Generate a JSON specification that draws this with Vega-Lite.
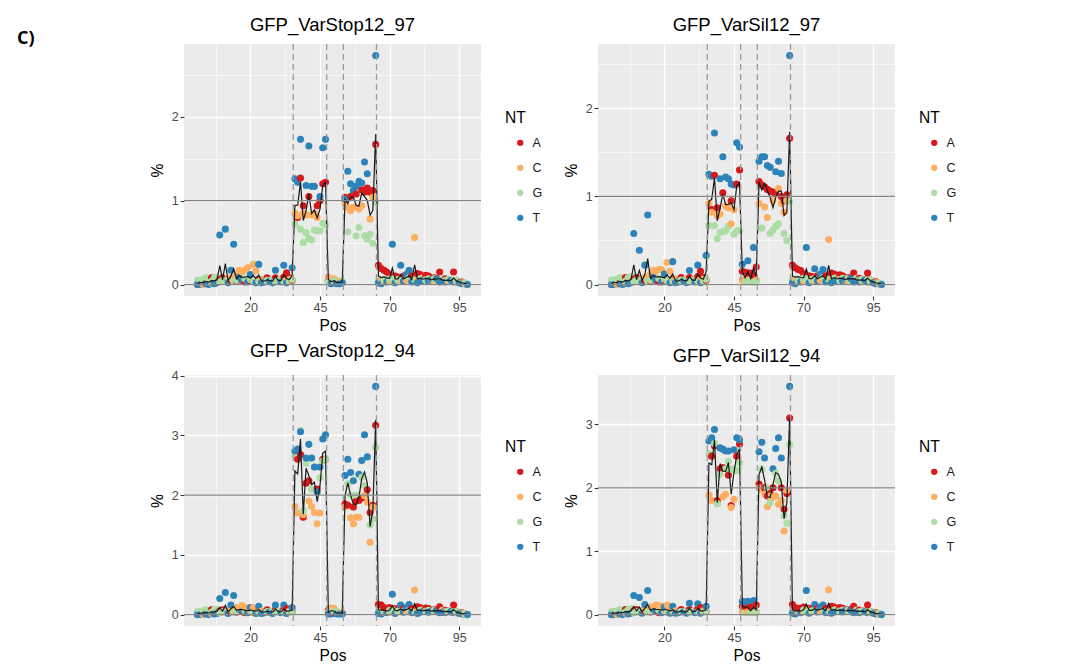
{
"$schema": "https://vega.github.io/schema/vega-lite/v6.json",
"background": "white",
"padding": {"left": 17, "top": 15, "right": 0, "bottom": 0},
"title": {"text": "C)", "orient": "left", "anchor": "end", "angle": 0, "align": "right", "baseline": "top", "offset": 98, "dy": 14, "font": "Open Sans", "fontSize": 18, "fontWeight": "bold", "color": "#000000", "frame": "bounds"},
"datasets": {"pts": [
{"p":"z","x":1,"n":"A","v":0},{"p":"z","x":1,"n":"G","v":0.05},{"p":"z","x":1,"n":"T","v":0},
{"p":"z","x":2,"n":"C","v":0.02},{"p":"z","x":2,"n":"G","v":0.05},{"p":"z","x":2,"n":"T","v":0},
{"p":"z","x":3,"n":"A","v":0.01},{"p":"z","x":3,"n":"C","v":0},{"p":"z","x":3,"n":"G","v":0.06},
{"p":"z","x":4,"n":"A","v":0.02},{"p":"z","x":4,"n":"G","v":0.08},{"p":"z","x":4,"n":"T","v":0.01},
{"p":"z","x":5,"n":"C","v":0.03},{"p":"z","x":5,"n":"G","v":0.05},{"p":"z","x":5,"n":"T","v":0},
{"p":"z","x":6,"n":"A","v":0.08},{"p":"z","x":6,"n":"C","v":0.02},{"p":"z","x":6,"n":"G","v":0.04},
{"p":"z","x":7,"n":"A","v":0.04},{"p":"z","x":7,"n":"G","v":0.08},{"p":"z","x":7,"n":"T","v":0.01},
{"p":"z","x":8,"n":"C","v":0.06},{"p":"z","x":8,"n":"G","v":0.09},{"p":"z","x":8,"n":"T","v":0.02},
{"p":"z","x":9,"n":"A","v":0.06},{"p":"z","x":9,"n":"G","v":0.03},
{"p":"z","x":10,"n":"A","v":0.08},{"p":"z","x":10,"n":"C","v":0.04},{"p":"z","x":10,"n":"G","v":0.05},
{"p":"z","x":11,"n":"C","v":0.05},{"p":"z","x":11,"n":"G","v":0.04},
{"p":"z","x":12,"n":"A","v":0.06},{"p":"z","x":12,"n":"G","v":0.06},{"p":"z","x":12,"n":"T","v":0.02},
{"p":"z","x":13,"n":"A","v":0.05},{"p":"z","x":13,"n":"C","v":0.08},
{"p":"z","x":14,"n":"C","v":0.05},{"p":"z","x":14,"n":"G","v":0.04},
{"p":"z","x":15,"n":"A","v":0.04},{"p":"z","x":15,"n":"C","v":0.12},{"p":"z","x":15,"n":"G","v":0.05},
{"p":"z","x":16,"n":"G","v":0.06},{"p":"z","x":16,"n":"T","v":0.09},
{"p":"z","x":17,"n":"A","v":0.05},{"p":"z","x":17,"n":"C","v":0.15},{"p":"z","x":17,"n":"T","v":0.05},
{"p":"z","x":18,"n":"A","v":0.03},{"p":"z","x":18,"n":"G","v":0.07},
{"p":"z","x":19,"n":"G","v":0.05},{"p":"z","x":19,"n":"T","v":0.03},
{"p":"z","x":20,"n":"A","v":0.05},{"p":"z","x":20,"n":"G","v":0.06},{"p":"z","x":20,"n":"T","v":0.12},
{"p":"z","x":21,"n":"A","v":0.04},{"p":"z","x":21,"n":"G","v":0.04},
{"p":"z","x":22,"n":"G","v":0.05},{"p":"z","x":22,"n":"T","v":0.02},
{"p":"z","x":23,"n":"A","v":0.06},{"p":"z","x":23,"n":"G","v":0.04},
{"p":"z","x":24,"n":"A","v":0.05},{"p":"z","x":24,"n":"C","v":0.06},{"p":"z","x":24,"n":"T","v":0.02},
{"p":"z","x":25,"n":"C","v":0.05},{"p":"z","x":25,"n":"G","v":0.04},{"p":"z","x":25,"n":"T","v":0.03},
{"p":"z","x":26,"n":"A","v":0.08},{"p":"z","x":26,"n":"C","v":0.04},{"p":"z","x":26,"n":"G","v":0.05},
{"p":"z","x":27,"n":"A","v":0.05},{"p":"z","x":27,"n":"G","v":0.05},{"p":"z","x":27,"n":"T","v":0.04},
{"p":"z","x":28,"n":"C","v":0.04},{"p":"z","x":28,"n":"G","v":0.06},{"p":"z","x":28,"n":"T","v":0.02},
{"p":"z","x":29,"n":"A","v":0.08},{"p":"z","x":29,"n":"G","v":0.04},
{"p":"z","x":30,"n":"A","v":0.05},{"p":"z","x":30,"n":"C","v":0.05},{"p":"z","x":30,"n":"G","v":0.05},
{"p":"z","x":31,"n":"C","v":0.06},{"p":"z","x":31,"n":"G","v":0.05},{"p":"z","x":31,"n":"T","v":0.03},
{"p":"z","x":32,"n":"A","v":0.09},{"p":"z","x":32,"n":"G","v":0.04},
{"p":"z","x":33,"n":"C","v":0.05},{"p":"z","x":33,"n":"T","v":0.02},
{"p":"z","x":34,"n":"A","v":0.08},{"p":"z","x":34,"n":"C","v":0.06},{"p":"z","x":34,"n":"G","v":0.04},
{"p":"z","x":35,"n":"A","v":0.05},{"p":"z","x":35,"n":"G","v":0.06},
{"p":"z","x":66,"n":"G","v":0.05},{"p":"z","x":66,"n":"T","v":0.02},
{"p":"z","x":67,"n":"C","v":0.05},{"p":"z","x":67,"n":"T","v":0.01},
{"p":"z","x":68,"n":"C","v":0.04},{"p":"z","x":68,"n":"G","v":0.06},
{"p":"z","x":69,"n":"G","v":0.05},{"p":"z","x":69,"n":"T","v":0.03},
{"p":"z","x":70,"n":"A","v":0.12},{"p":"z","x":70,"n":"C","v":0.04},{"p":"z","x":70,"n":"G","v":0.07},
{"p":"z","x":71,"n":"C","v":0.05},{"p":"z","x":71,"n":"G","v":0.06},
{"p":"z","x":72,"n":"A","v":0.1},{"p":"z","x":72,"n":"G","v":0.08},{"p":"z","x":72,"n":"T","v":0.02},
{"p":"z","x":73,"n":"A","v":0.09},{"p":"z","x":73,"n":"C","v":0.06},{"p":"z","x":73,"n":"G","v":0.05},
{"p":"z","x":74,"n":"C","v":0.05},{"p":"z","x":74,"n":"G","v":0.07},
{"p":"z","x":75,"n":"A","v":0.1},{"p":"z","x":75,"n":"G","v":0.06},{"p":"z","x":75,"n":"T","v":0.04},
{"p":"z","x":76,"n":"A","v":0.08},{"p":"z","x":76,"n":"C","v":0.05},{"p":"z","x":76,"n":"T","v":0.12},
{"p":"z","x":77,"n":"C","v":0.06},{"p":"z","x":77,"n":"G","v":0.08},
{"p":"z","x":78,"n":"A","v":0.1},{"p":"z","x":78,"n":"G","v":0.05},{"p":"z","x":78,"n":"T","v":0.03},
{"p":"z","x":79,"n":"A","v":0.08},{"p":"z","x":79,"n":"G","v":0.06},
{"p":"z","x":80,"n":"A","v":0.13},{"p":"z","x":80,"n":"C","v":0.05},{"p":"z","x":80,"n":"T","v":0.02},
{"p":"z","x":81,"n":"A","v":0.12},{"p":"z","x":81,"n":"G","v":0.07},{"p":"z","x":81,"n":"T","v":0.04},
{"p":"z","x":82,"n":"C","v":0.06},{"p":"z","x":82,"n":"G","v":0.08},{"p":"z","x":82,"n":"T","v":0.05},
{"p":"z","x":83,"n":"A","v":0.11},{"p":"z","x":83,"n":"C","v":0.06},{"p":"z","x":83,"n":"G","v":0.05},
{"p":"z","x":84,"n":"A","v":0.1},{"p":"z","x":84,"n":"G","v":0.07},{"p":"z","x":84,"n":"T","v":0.04},
{"p":"z","x":85,"n":"C","v":0.05},{"p":"z","x":85,"n":"G","v":0.06},{"p":"z","x":85,"n":"T","v":0.06},
{"p":"z","x":86,"n":"A","v":0.08},{"p":"z","x":86,"n":"C","v":0.05},{"p":"z","x":86,"n":"G","v":0.07},
{"p":"z","x":87,"n":"A","v":0.07},{"p":"z","x":87,"n":"G","v":0.05},{"p":"z","x":87,"n":"T","v":0.07},
{"p":"z","x":88,"n":"C","v":0.04},{"p":"z","x":88,"n":"T","v":0.03},
{"p":"z","x":89,"n":"C","v":0.05},{"p":"z","x":89,"n":"G","v":0.07},{"p":"z","x":89,"n":"T","v":0.04},
{"p":"z","x":90,"n":"A","v":0.07},{"p":"z","x":90,"n":"G","v":0.05},{"p":"z","x":90,"n":"T","v":0.03},
{"p":"z","x":91,"n":"A","v":0.06},{"p":"z","x":91,"n":"C","v":0.04},{"p":"z","x":91,"n":"G","v":0.06},
{"p":"z","x":92,"n":"C","v":0.05},{"p":"z","x":92,"n":"G","v":0.04},{"p":"z","x":92,"n":"T","v":0.05},
{"p":"z","x":93,"n":"G","v":0.05},{"p":"z","x":93,"n":"T","v":0.03},
{"p":"z","x":94,"n":"A","v":0.05},{"p":"z","x":94,"n":"C","v":0.03},{"p":"z","x":94,"n":"G","v":0.05},
{"p":"z","x":95,"n":"C","v":0.03},{"p":"z","x":95,"n":"G","v":0.04},{"p":"z","x":95,"n":"T","v":0.02},
{"p":"z","x":96,"n":"A","v":0.03},{"p":"z","x":96,"n":"G","v":0.02},{"p":"z","x":96,"n":"T","v":0.01},
{"p":"z","x":97,"n":"A","v":0.01},{"p":"z","x":97,"n":"C","v":0.02},{"p":"z","x":97,"n":"G","v":0.01},
{"p":"z","x":98,"n":"C","v":0},{"p":"z","x":98,"n":"G","v":0.01},{"p":"z","x":98,"n":"T","v":0},

{"p":"a","x":9,"n":"T","v":0.59},{"p":"a","x":11,"n":"T","v":0.66},{"p":"a","x":13,"n":"T","v":0.17},{"p":"a","x":14,"n":"T","v":0.48},
{"p":"a","x":16,"n":"C","v":0.17},{"p":"a","x":18,"n":"C","v":0.17},{"p":"a","x":19,"n":"C","v":0.2},{"p":"a","x":21,"n":"C","v":0.24},
{"p":"a","x":22,"n":"C","v":0.16},{"p":"a","x":23,"n":"T","v":0.24},{"p":"a","x":29,"n":"T","v":0.17},{"p":"a","x":32,"n":"T","v":0.23},
{"p":"a","x":33,"n":"A","v":0.14},{"p":"a","x":35,"n":"T","v":0.2},{"p":"a","x":66,"n":"A","v":0.23},{"p":"a","x":67,"n":"A","v":0.19},
{"p":"a","x":68,"n":"A","v":0.17},{"p":"a","x":69,"n":"A","v":0.15},{"p":"a","x":71,"n":"T","v":0.48},{"p":"a","x":74,"n":"T","v":0.23},
{"p":"a","x":77,"n":"T","v":0.17},{"p":"a","x":79,"n":"C","v":0.56},{"p":"a","x":88,"n":"A","v":0.15},{"p":"a","x":93,"n":"A","v":0.15},
{"p":"a","x":36,"n":"C","v":0.85},{"p":"a","x":36,"n":"G","v":0.72},{"p":"a","x":36,"n":"T","v":1.26},
{"p":"a","x":37,"n":"A","v":0.8},{"p":"a","x":37,"n":"C","v":0.82},{"p":"a","x":37,"n":"T","v":1.22},
{"p":"a","x":38,"n":"A","v":1.27},{"p":"a","x":38,"n":"G","v":0.66},{"p":"a","x":38,"n":"T","v":1.73},
{"p":"a","x":39,"n":"A","v":0.94},{"p":"a","x":39,"n":"C","v":0.85},{"p":"a","x":39,"n":"G","v":0.5},
{"p":"a","x":40,"n":"C","v":0.83},{"p":"a","x":40,"n":"G","v":0.62},{"p":"a","x":40,"n":"T","v":1.18},
{"p":"a","x":41,"n":"A","v":1.05},{"p":"a","x":41,"n":"G","v":0.55},{"p":"a","x":41,"n":"T","v":1.65},
{"p":"a","x":42,"n":"C","v":0.83},{"p":"a","x":42,"n":"G","v":0.53},{"p":"a","x":42,"n":"T","v":1.17},
{"p":"a","x":43,"n":"C","v":0.85},{"p":"a","x":43,"n":"G","v":0.65},{"p":"a","x":43,"n":"T","v":1.17},
{"p":"a","x":44,"n":"A","v":0.94},{"p":"a","x":44,"n":"C","v":0.8},{"p":"a","x":44,"n":"G","v":0.64},
{"p":"a","x":45,"n":"A","v":1.0},{"p":"a","x":45,"n":"G","v":0.64},{"p":"a","x":45,"n":"T","v":1.05},
{"p":"a","x":46,"n":"A","v":1.2},{"p":"a","x":46,"n":"G","v":0.73},{"p":"a","x":46,"n":"T","v":1.63},
{"p":"a","x":47,"n":"A","v":1.22},{"p":"a","x":47,"n":"G","v":0.71},{"p":"a","x":47,"n":"T","v":1.73},
{"p":"a","x":48,"n":"A","v":0.05},{"p":"a","x":48,"n":"C","v":0.09},{"p":"a","x":48,"n":"G","v":0.04},
{"p":"a","x":49,"n":"C","v":0.06},{"p":"a","x":49,"n":"G","v":0.03},{"p":"a","x":49,"n":"T","v":0.01},
{"p":"a","x":50,"n":"A","v":0.03},{"p":"a","x":50,"n":"C","v":0.07},{"p":"a","x":50,"n":"G","v":0.04},
{"p":"a","x":51,"n":"A","v":0.02},{"p":"a","x":51,"n":"G","v":0.05},{"p":"a","x":51,"n":"T","v":0.01},
{"p":"a","x":52,"n":"A","v":0.03},{"p":"a","x":52,"n":"C","v":0.04},{"p":"a","x":52,"n":"T","v":0.01},
{"p":"a","x":53,"n":"C","v":0.03},{"p":"a","x":53,"n":"G","v":0.04},{"p":"a","x":53,"n":"T","v":0.02},
{"p":"a","x":54,"n":"A","v":1.04},{"p":"a","x":54,"n":"C","v":0.98},{"p":"a","x":54,"n":"T","v":1.02},
{"p":"a","x":55,"n":"C","v":0.92},{"p":"a","x":55,"n":"G","v":0.63},{"p":"a","x":55,"n":"T","v":1.35},
{"p":"a","x":56,"n":"A","v":1.05},{"p":"a","x":56,"n":"C","v":0.88},{"p":"a","x":56,"n":"T","v":1.2},
{"p":"a","x":57,"n":"A","v":1.08},{"p":"a","x":57,"n":"C","v":0.92},{"p":"a","x":57,"n":"T","v":1.12},
{"p":"a","x":58,"n":"A","v":1.08},{"p":"a","x":58,"n":"G","v":0.58},{"p":"a","x":58,"n":"T","v":1.17},
{"p":"a","x":59,"n":"C","v":0.9},{"p":"a","x":59,"n":"G","v":0.68},{"p":"a","x":59,"n":"T","v":1.23},
{"p":"a","x":60,"n":"A","v":1.13},{"p":"a","x":60,"n":"C","v":0.94},{"p":"a","x":60,"n":"T","v":1.21},
{"p":"a","x":61,"n":"A","v":1.1},{"p":"a","x":61,"n":"G","v":0.58},{"p":"a","x":61,"n":"T","v":1.46},
{"p":"a","x":62,"n":"A","v":1.15},{"p":"a","x":62,"n":"G","v":0.54},{"p":"a","x":62,"n":"T","v":1.32},
{"p":"a","x":63,"n":"A","v":1.1},{"p":"a","x":63,"n":"C","v":0.78},{"p":"a","x":63,"n":"G","v":0.6},
{"p":"a","x":64,"n":"A","v":1.12},{"p":"a","x":64,"n":"C","v":1.04},{"p":"a","x":64,"n":"G","v":0.49},
{"p":"a","x":65,"n":"A","v":1.67},{"p":"a","x":65,"n":"G","v":0.98},{"p":"a","x":65,"n":"T","v":2.73},

{"p":"b","x":9,"n":"T","v":0.58},{"p":"b","x":11,"n":"T","v":0.39},{"p":"b","x":13,"n":"T","v":0.22},{"p":"b","x":14,"n":"T","v":0.79},
{"p":"b","x":16,"n":"C","v":0.16},{"p":"b","x":18,"n":"C","v":0.17},{"p":"b","x":19,"n":"C","v":0.17},{"p":"b","x":21,"n":"C","v":0.25},
{"p":"b","x":22,"n":"C","v":0.15},{"p":"b","x":23,"n":"T","v":0.26},{"p":"b","x":29,"n":"T","v":0.16},{"p":"b","x":32,"n":"T","v":0.22},
{"p":"b","x":33,"n":"A","v":0.15},{"p":"b","x":35,"n":"T","v":0.33},{"p":"b","x":66,"n":"A","v":0.22},{"p":"b","x":67,"n":"A","v":0.19},
{"p":"b","x":68,"n":"A","v":0.17},{"p":"b","x":69,"n":"A","v":0.16},{"p":"b","x":71,"n":"T","v":0.42},{"p":"b","x":74,"n":"T","v":0.18},
{"p":"b","x":77,"n":"T","v":0.17},{"p":"b","x":79,"n":"C","v":0.51},{"p":"b","x":88,"n":"A","v":0.13},{"p":"b","x":93,"n":"A","v":0.13},
{"p":"b","x":36,"n":"C","v":0.92},{"p":"b","x":36,"n":"G","v":0.67},{"p":"b","x":36,"n":"T","v":1.25},
{"p":"b","x":37,"n":"A","v":0.85},{"p":"b","x":37,"n":"C","v":0.82},{"p":"b","x":37,"n":"T","v":1.23},
{"p":"b","x":38,"n":"A","v":1.24},{"p":"b","x":38,"n":"G","v":0.67},{"p":"b","x":38,"n":"T","v":1.72},
{"p":"b","x":39,"n":"A","v":0.87},{"p":"b","x":39,"n":"C","v":0.78},{"p":"b","x":39,"n":"G","v":0.52},
{"p":"b","x":40,"n":"C","v":0.8},{"p":"b","x":40,"n":"G","v":0.59},{"p":"b","x":40,"n":"T","v":1.2},
{"p":"b","x":41,"n":"A","v":1.04},{"p":"b","x":41,"n":"G","v":0.6},{"p":"b","x":41,"n":"T","v":1.45},
{"p":"b","x":42,"n":"C","v":0.89},{"p":"b","x":42,"n":"G","v":0.61},{"p":"b","x":42,"n":"T","v":1.22},
{"p":"b","x":43,"n":"C","v":0.87},{"p":"b","x":43,"n":"G","v":0.66},{"p":"b","x":43,"n":"T","v":1.2},
{"p":"b","x":44,"n":"A","v":0.95},{"p":"b","x":44,"n":"C","v":0.69},{"p":"b","x":44,"n":"T","v":1.14},
{"p":"b","x":45,"n":"C","v":0.85},{"p":"b","x":45,"n":"G","v":0.57},{"p":"b","x":45,"n":"T","v":1.13},
{"p":"b","x":46,"n":"A","v":1.14},{"p":"b","x":46,"n":"G","v":0.61},{"p":"b","x":46,"n":"T","v":1.61},
{"p":"b","x":47,"n":"A","v":1.3},{"p":"b","x":47,"n":"G","v":0.61},{"p":"b","x":47,"n":"T","v":1.56},
{"p":"b","x":48,"n":"A","v":0.15},{"p":"b","x":48,"n":"C","v":0.05},{"p":"b","x":48,"n":"T","v":0.23},
{"p":"b","x":49,"n":"A","v":0.14},{"p":"b","x":49,"n":"C","v":0.06},{"p":"b","x":49,"n":"G","v":0.03},
{"p":"b","x":50,"n":"A","v":0.13},{"p":"b","x":50,"n":"G","v":0.04},{"p":"b","x":50,"n":"T","v":0.27},
{"p":"b","x":51,"n":"A","v":0.13},{"p":"b","x":51,"n":"C","v":0.04},{"p":"b","x":51,"n":"G","v":0.03},
{"p":"b","x":52,"n":"A","v":0.1},{"p":"b","x":52,"n":"G","v":0.03},{"p":"b","x":52,"n":"T","v":0.42},
{"p":"b","x":53,"n":"A","v":0.2},{"p":"b","x":53,"n":"C","v":0.05},{"p":"b","x":53,"n":"G","v":0.03},
{"p":"b","x":54,"n":"A","v":1.17},{"p":"b","x":54,"n":"C","v":0.92},{"p":"b","x":54,"n":"T","v":1.4},
{"p":"b","x":55,"n":"A","v":1.13},{"p":"b","x":55,"n":"G","v":0.64},{"p":"b","x":55,"n":"T","v":1.45},
{"p":"b","x":56,"n":"A","v":1.11},{"p":"b","x":56,"n":"C","v":0.88},{"p":"b","x":56,"n":"T","v":1.45},
{"p":"b","x":57,"n":"A","v":1.08},{"p":"b","x":57,"n":"C","v":0.76},{"p":"b","x":57,"n":"T","v":1.35},
{"p":"b","x":58,"n":"A","v":1.06},{"p":"b","x":58,"n":"G","v":0.58},{"p":"b","x":58,"n":"T","v":1.33},
{"p":"b","x":59,"n":"A","v":1.05},{"p":"b","x":59,"n":"C","v":0.95},{"p":"b","x":59,"n":"G","v":0.62},
{"p":"b","x":60,"n":"A","v":1.03},{"p":"b","x":60,"n":"G","v":0.66},{"p":"b","x":60,"n":"T","v":1.28},
{"p":"b","x":61,"n":"C","v":1.09},{"p":"b","x":61,"n":"G","v":0.69},{"p":"b","x":61,"n":"T","v":1.4},
{"p":"b","x":62,"n":"A","v":1.0},{"p":"b","x":62,"n":"C","v":0.92},{"p":"b","x":62,"n":"T","v":1.26},
{"p":"b","x":63,"n":"A","v":0.95},{"p":"b","x":63,"n":"C","v":0.82},{"p":"b","x":63,"n":"G","v":0.58},
{"p":"b","x":64,"n":"A","v":1.02},{"p":"b","x":64,"n":"C","v":0.95},{"p":"b","x":64,"n":"G","v":0.5},
{"p":"b","x":65,"n":"A","v":1.66},{"p":"b","x":65,"n":"G","v":0.94},{"p":"b","x":65,"n":"T","v":2.6},

{"p":"c","x":9,"n":"T","v":0.27},{"p":"c","x":11,"n":"T","v":0.37},{"p":"c","x":13,"n":"T","v":0.16},{"p":"c","x":14,"n":"T","v":0.32},
{"p":"c","x":16,"n":"C","v":0.1},{"p":"c","x":18,"n":"C","v":0.12},{"p":"c","x":19,"n":"C","v":0.11},{"p":"c","x":21,"n":"C","v":0.12},
{"p":"c","x":22,"n":"C","v":0.1},{"p":"c","x":23,"n":"T","v":0.14},{"p":"c","x":29,"n":"T","v":0.16},{"p":"c","x":32,"n":"T","v":0.16},
{"p":"c","x":33,"n":"A","v":0.1},{"p":"c","x":35,"n":"T","v":0.12},{"p":"c","x":66,"n":"A","v":0.17},{"p":"c","x":67,"n":"A","v":0.16},
{"p":"c","x":68,"n":"A","v":0.12},{"p":"c","x":69,"n":"A","v":0.1},{"p":"c","x":71,"n":"T","v":0.34},{"p":"c","x":74,"n":"T","v":0.16},
{"p":"c","x":77,"n":"T","v":0.17},{"p":"c","x":79,"n":"C","v":0.41},{"p":"c","x":88,"n":"A","v":0.13},{"p":"c","x":93,"n":"A","v":0.16},
{"p":"c","x":36,"n":"C","v":1.81},{"p":"c","x":36,"n":"G","v":2.66},{"p":"c","x":36,"n":"T","v":2.74},
{"p":"c","x":37,"n":"A","v":2.6},{"p":"c","x":37,"n":"C","v":1.7},{"p":"c","x":37,"n":"T","v":2.77},
{"p":"c","x":38,"n":"A","v":2.68},{"p":"c","x":38,"n":"G","v":3.08},{"p":"c","x":38,"n":"T","v":3.06},
{"p":"c","x":39,"n":"A","v":1.63},{"p":"c","x":39,"n":"C","v":1.67},{"p":"c","x":39,"n":"G","v":1.74},
{"p":"c","x":40,"n":"A","v":2.2},{"p":"c","x":40,"n":"G","v":2.53},{"p":"c","x":40,"n":"T","v":2.62},
{"p":"c","x":41,"n":"A","v":2.24},{"p":"c","x":41,"n":"C","v":1.9},{"p":"c","x":41,"n":"T","v":2.85},
{"p":"c","x":42,"n":"C","v":1.81},{"p":"c","x":42,"n":"G","v":2.1},{"p":"c","x":42,"n":"T","v":2.62},
{"p":"c","x":43,"n":"C","v":1.71},{"p":"c","x":43,"n":"G","v":2.47},{"p":"c","x":43,"n":"T","v":2.47},
{"p":"c","x":44,"n":"A","v":2.1},{"p":"c","x":44,"n":"C","v":1.52},{"p":"c","x":44,"n":"T","v":2.05},
{"p":"c","x":45,"n":"C","v":1.7},{"p":"c","x":45,"n":"G","v":2.29},{"p":"c","x":45,"n":"T","v":2.47},
{"p":"c","x":46,"n":"A","v":2.6},{"p":"c","x":46,"n":"G","v":2.57},{"p":"c","x":46,"n":"T","v":2.94},
{"p":"c","x":47,"n":"A","v":2.6},{"p":"c","x":47,"n":"G","v":2.6},{"p":"c","x":47,"n":"T","v":3.01},
{"p":"c","x":48,"n":"A","v":0.07},{"p":"c","x":48,"n":"C","v":0.05},{"p":"c","x":48,"n":"T","v":0.01},
{"p":"c","x":49,"n":"C","v":0.11},{"p":"c","x":49,"n":"G","v":0.07},{"p":"c","x":49,"n":"T","v":0.01},
{"p":"c","x":50,"n":"A","v":0.03},{"p":"c","x":50,"n":"C","v":0.1},{"p":"c","x":50,"n":"G","v":0.05},
{"p":"c","x":51,"n":"A","v":0.02},{"p":"c","x":51,"n":"G","v":0.05},{"p":"c","x":51,"n":"T","v":0.01},
{"p":"c","x":52,"n":"C","v":0.04},{"p":"c","x":52,"n":"G","v":0.03},{"p":"c","x":52,"n":"T","v":0.01},
{"p":"c","x":53,"n":"A","v":0.02},{"p":"c","x":53,"n":"C","v":0.03},{"p":"c","x":53,"n":"T","v":0.01},
{"p":"c","x":54,"n":"A","v":1.85},{"p":"c","x":54,"n":"C","v":1.8},{"p":"c","x":54,"n":"T","v":2.33},
{"p":"c","x":55,"n":"A","v":1.83},{"p":"c","x":55,"n":"G","v":2.19},{"p":"c","x":55,"n":"T","v":2.6},
{"p":"c","x":56,"n":"C","v":1.62},{"p":"c","x":56,"n":"G","v":2.0},{"p":"c","x":56,"n":"T","v":2.38},
{"p":"c","x":57,"n":"A","v":1.8},{"p":"c","x":57,"n":"C","v":1.52},{"p":"c","x":57,"n":"T","v":2.24},
{"p":"c","x":58,"n":"A","v":1.9},{"p":"c","x":58,"n":"C","v":1.63},{"p":"c","x":58,"n":"G","v":2.0},
{"p":"c","x":59,"n":"A","v":1.91},{"p":"c","x":59,"n":"C","v":1.63},{"p":"c","x":59,"n":"T","v":2.35},
{"p":"c","x":60,"n":"A","v":1.95},{"p":"c","x":60,"n":"G","v":2.3},{"p":"c","x":60,"n":"T","v":2.58},
{"p":"c","x":61,"n":"C","v":1.99},{"p":"c","x":61,"n":"G","v":2.16},{"p":"c","x":61,"n":"T","v":3.01},
{"p":"c","x":62,"n":"A","v":2.09},{"p":"c","x":62,"n":"C","v":1.88},{"p":"c","x":62,"n":"T","v":2.64},
{"p":"c","x":63,"n":"A","v":1.71},{"p":"c","x":63,"n":"C","v":1.21},{"p":"c","x":63,"n":"G","v":1.5},
{"p":"c","x":64,"n":"A","v":1.83},{"p":"c","x":64,"n":"C","v":1.8},{"p":"c","x":64,"n":"G","v":1.6},
{"p":"c","x":65,"n":"A","v":3.17},{"p":"c","x":65,"n":"G","v":2.8},{"p":"c","x":65,"n":"T","v":3.82},

{"p":"d","x":9,"n":"T","v":0.3},{"p":"d","x":11,"n":"T","v":0.27},{"p":"d","x":13,"n":"T","v":0.16},{"p":"d","x":14,"n":"T","v":0.38},
{"p":"d","x":16,"n":"C","v":0.12},{"p":"d","x":18,"n":"C","v":0.14},{"p":"d","x":19,"n":"C","v":0.13},{"p":"d","x":21,"n":"C","v":0.15},
{"p":"d","x":22,"n":"C","v":0.1},{"p":"d","x":23,"n":"T","v":0.13},{"p":"d","x":29,"n":"T","v":0.18},{"p":"d","x":32,"n":"T","v":0.17},
{"p":"d","x":33,"n":"A","v":0.11},{"p":"d","x":35,"n":"T","v":0.13},{"p":"d","x":66,"n":"A","v":0.16},{"p":"d","x":67,"n":"A","v":0.11},
{"p":"d","x":68,"n":"A","v":0.1},{"p":"d","x":69,"n":"A","v":0.09},{"p":"d","x":71,"n":"T","v":0.38},{"p":"d","x":74,"n":"T","v":0.16},
{"p":"d","x":77,"n":"T","v":0.15},{"p":"d","x":79,"n":"C","v":0.39},{"p":"d","x":88,"n":"A","v":0.13},{"p":"d","x":93,"n":"A","v":0.15},
{"p":"d","x":36,"n":"C","v":1.89},{"p":"d","x":36,"n":"G","v":2.54},{"p":"d","x":36,"n":"T","v":2.74},
{"p":"d","x":37,"n":"A","v":2.5},{"p":"d","x":37,"n":"C","v":1.8},{"p":"d","x":37,"n":"T","v":2.79},
{"p":"d","x":38,"n":"A","v":2.66},{"p":"d","x":38,"n":"G","v":2.7},{"p":"d","x":38,"n":"T","v":2.92},
{"p":"d","x":39,"n":"A","v":1.8},{"p":"d","x":39,"n":"C","v":1.75},{"p":"d","x":39,"n":"G","v":1.75},
{"p":"d","x":40,"n":"A","v":2.3},{"p":"d","x":40,"n":"G","v":2.21},{"p":"d","x":40,"n":"T","v":2.63},
{"p":"d","x":41,"n":"A","v":2.32},{"p":"d","x":41,"n":"C","v":1.86},{"p":"d","x":41,"n":"T","v":2.61},
{"p":"d","x":42,"n":"C","v":1.9},{"p":"d","x":42,"n":"G","v":2.3},{"p":"d","x":42,"n":"T","v":2.58},
{"p":"d","x":43,"n":"A","v":2.2},{"p":"d","x":43,"n":"G","v":2.42},{"p":"d","x":43,"n":"T","v":2.58},
{"p":"d","x":44,"n":"A","v":1.72},{"p":"d","x":44,"n":"C","v":1.69},{"p":"d","x":44,"n":"G","v":2.29},
{"p":"d","x":45,"n":"C","v":1.82},{"p":"d","x":45,"n":"G","v":2.3},{"p":"d","x":45,"n":"T","v":2.6},
{"p":"d","x":46,"n":"A","v":2.5},{"p":"d","x":46,"n":"G","v":2.27},{"p":"d","x":46,"n":"T","v":2.79},
{"p":"d","x":47,"n":"A","v":2.69},{"p":"d","x":47,"n":"G","v":2.4},{"p":"d","x":47,"n":"T","v":2.76},
{"p":"d","x":48,"n":"A","v":0.13},{"p":"d","x":48,"n":"C","v":0.04},{"p":"d","x":48,"n":"T","v":0.21},
{"p":"d","x":49,"n":"A","v":0.12},{"p":"d","x":49,"n":"G","v":0.03},{"p":"d","x":49,"n":"T","v":0.2},
{"p":"d","x":50,"n":"A","v":0.1},{"p":"d","x":50,"n":"C","v":0.04},{"p":"d","x":50,"n":"T","v":0.21},
{"p":"d","x":51,"n":"A","v":0.12},{"p":"d","x":51,"n":"C","v":0.03},{"p":"d","x":51,"n":"G","v":0.03},
{"p":"d","x":52,"n":"A","v":0.1},{"p":"d","x":52,"n":"G","v":0.03},{"p":"d","x":52,"n":"T","v":0.22},
{"p":"d","x":53,"n":"A","v":0.15},{"p":"d","x":53,"n":"C","v":0.04},{"p":"d","x":53,"n":"G","v":0.03},
{"p":"d","x":54,"n":"A","v":2.06},{"p":"d","x":54,"n":"C","v":2.0},{"p":"d","x":54,"n":"T","v":2.57},
{"p":"d","x":55,"n":"C","v":1.98},{"p":"d","x":55,"n":"G","v":2.29},{"p":"d","x":55,"n":"T","v":2.72},
{"p":"d","x":56,"n":"A","v":2.0},{"p":"d","x":56,"n":"C","v":1.9},{"p":"d","x":56,"n":"T","v":2.47},
{"p":"d","x":57,"n":"A","v":1.87},{"p":"d","x":57,"n":"C","v":1.7},{"p":"d","x":57,"n":"G","v":2.0},
{"p":"d","x":58,"n":"A","v":1.91},{"p":"d","x":58,"n":"C","v":1.87},{"p":"d","x":58,"n":"G","v":1.77},
{"p":"d","x":59,"n":"A","v":2.0},{"p":"d","x":59,"n":"C","v":1.85},{"p":"d","x":59,"n":"T","v":2.3},
{"p":"d","x":60,"n":"C","v":1.87},{"p":"d","x":60,"n":"G","v":2.23},{"p":"d","x":60,"n":"T","v":2.62},
{"p":"d","x":61,"n":"C","v":1.74},{"p":"d","x":61,"n":"G","v":2.11},{"p":"d","x":61,"n":"T","v":2.79},
{"p":"d","x":62,"n":"A","v":2.0},{"p":"d","x":62,"n":"C","v":1.8},{"p":"d","x":62,"n":"T","v":2.47},
{"p":"d","x":63,"n":"A","v":1.66},{"p":"d","x":63,"n":"C","v":1.32},{"p":"d","x":63,"n":"G","v":1.56},
{"p":"d","x":64,"n":"A","v":1.91},{"p":"d","x":64,"n":"C","v":1.96},{"p":"d","x":64,"n":"G","v":1.44},
{"p":"d","x":65,"n":"A","v":3.1},{"p":"d","x":65,"n":"G","v":2.68},{"p":"d","x":65,"n":"T","v":3.6}
]},
"columns": 2,
"spacing": {"row": 8, "column": 21},
"resolve": {"scale": {"x": "independent", "y": "independent", "color": "independent"}, "legend": {"color": "independent"}},
"concat": [
{"width": 297, "height": 252, "title": "GFP_VarStop12_97",
 "layer": [
  {"data": {"name": "pts"}, "transform": [{"filter": "datum.p=='z'||datum.p=='a'"}], "mark": {"type": "circle", "size": 50, "opacity": 1},
   "encoding": {
    "x": {"field": "x", "type": "quantitative", "scale": {"domain": [-3.85, 102.85], "nice": false}, "axis": {"title": "Pos", "values": [7.5,20,32.5,45,57.5,70,82.5,95], "labelExpr": "datum.value % 1 == 0 ? format(datum.value, 'd') : ''", "tickOpacity": {"condition": {"test": "datum.value % 1 != 0", "value": 0}, "value": 1}, "gridWidth": {"condition": {"test": "datum.value % 1 != 0", "value": 0.6}, "value": 1.3}, "labelOverlap": false, "labelFlush": false}},
    "y": {"field": "v", "type": "quantitative", "scale": {"domain": [-0.1365, 2.8665], "nice": false}, "axis": {"title": "%", "values": [0,0.5,1,1.5,2,2.5], "labelExpr": "datum.value % 1 == 0 ? format(datum.value, 'd') : ''", "tickOpacity": {"condition": {"test": "datum.value % 1 != 0", "value": 0}, "value": 1}, "gridWidth": {"condition": {"test": "datum.value % 1 != 0", "value": 0.6}, "value": 1.3}, "labelOverlap": false, "labelFlush": false}},
    "color": {"field": "n", "type": "nominal", "scale": {"domain": ["A","C","G","T"], "range": ["#D7191C","#FDAE61","#ABDDA4","#2B83BA"]}, "legend": {"orient": "none", "legendX": 321, "legendY": 67, "title": "NT"}},
    "order": {"field": "x", "type": "quantitative"}
   }},
  {"data": {"name": "pts"}, "transform": [{"filter": "datum.p=='z'||datum.p=='a'"}], "mark": {"type": "line", "color": "#1a1a1a", "strokeWidth": 1.2},
   "encoding": {"x": {"field": "x", "type": "quantitative", "scale": {"domain": [-3.85, 102.85], "nice": false}}, "y": {"aggregate": "mean", "field": "v", "type": "quantitative", "scale": {"domain": [-0.1365, 2.8665], "nice": false}}}},
  {"data": {"values": [{"v": 0}, {"v": 1}]}, "mark": {"type": "rule", "color": "#858585", "strokeWidth": 1.3},
   "encoding": {"y": {"field": "v", "type": "quantitative", "scale": {"domain": [-0.1365, 2.8665], "nice": false}}}},
  {"data": {"values": [{"x": 35.4}, {"x": 47.4}, {"x": 53.4}, {"x": 65.3}]}, "mark": {"type": "rule", "color": "#9a9a9a", "strokeWidth": 1.3, "strokeDash": [6, 4]},
   "encoding": {"x": {"field": "x", "type": "quantitative", "scale": {"domain": [-3.85, 102.85], "nice": false}}}}
 ]},
{"width": 297, "height": 252, "title": "GFP_VarSil12_97",
 "layer": [
  {"data": {"name": "pts"}, "transform": [{"filter": "datum.p=='z'||datum.p=='b'"}], "mark": {"type": "circle", "size": 50, "opacity": 1},
   "encoding": {
    "x": {"field": "x", "type": "quantitative", "scale": {"domain": [-3.85, 102.85], "nice": false}, "axis": {"title": "Pos", "values": [7.5,20,32.5,45,57.5,70,82.5,95], "labelExpr": "datum.value % 1 == 0 ? format(datum.value, 'd') : ''", "tickOpacity": {"condition": {"test": "datum.value % 1 != 0", "value": 0}, "value": 1}, "gridWidth": {"condition": {"test": "datum.value % 1 != 0", "value": 0.6}, "value": 1.3}, "labelOverlap": false, "labelFlush": false}},
    "y": {"field": "v", "type": "quantitative", "scale": {"domain": [-0.13, 2.73], "nice": false}, "axis": {"title": "%", "values": [0,0.5,1,1.5,2,2.5], "labelExpr": "datum.value % 1 == 0 ? format(datum.value, 'd') : ''", "tickOpacity": {"condition": {"test": "datum.value % 1 != 0", "value": 0}, "value": 1}, "gridWidth": {"condition": {"test": "datum.value % 1 != 0", "value": 0.6}, "value": 1.3}, "labelOverlap": false, "labelFlush": false}},
    "color": {"field": "n", "type": "nominal", "scale": {"domain": ["A","C","G","T"], "range": ["#D7191C","#FDAE61","#ABDDA4","#2B83BA"]}, "legend": {"orient": "none", "legendX": 321, "legendY": 67, "title": "NT"}},
    "order": {"field": "x", "type": "quantitative"}
   }},
  {"data": {"name": "pts"}, "transform": [{"filter": "datum.p=='z'||datum.p=='b'"}], "mark": {"type": "line", "color": "#1a1a1a", "strokeWidth": 1.2},
   "encoding": {"x": {"field": "x", "type": "quantitative", "scale": {"domain": [-3.85, 102.85], "nice": false}}, "y": {"aggregate": "mean", "field": "v", "type": "quantitative", "scale": {"domain": [-0.13, 2.73], "nice": false}}}},
  {"data": {"values": [{"v": 0}, {"v": 1}]}, "mark": {"type": "rule", "color": "#858585", "strokeWidth": 1.3},
   "encoding": {"y": {"field": "v", "type": "quantitative", "scale": {"domain": [-0.13, 2.73], "nice": false}}}},
  {"data": {"values": [{"x": 35.4}, {"x": 47.4}, {"x": 53.4}, {"x": 65.3}]}, "mark": {"type": "rule", "color": "#9a9a9a", "strokeWidth": 1.3, "strokeDash": [6, 4]},
   "encoding": {"x": {"field": "x", "type": "quantitative", "scale": {"domain": [-3.85, 102.85], "nice": false}}}}
 ]},
{"width": 297, "height": 251, "title": "GFP_VarStop12_94",
 "layer": [
  {"data": {"name": "pts"}, "transform": [{"filter": "datum.p=='z'||datum.p=='c'"}], "mark": {"type": "circle", "size": 50, "opacity": 1},
   "encoding": {
    "x": {"field": "x", "type": "quantitative", "scale": {"domain": [-3.85, 102.85], "nice": false}, "axis": {"title": "Pos", "values": [7.5,20,32.5,45,57.5,70,82.5,95], "labelExpr": "datum.value % 1 == 0 ? format(datum.value, 'd') : ''", "tickOpacity": {"condition": {"test": "datum.value % 1 != 0", "value": 0}, "value": 1}, "gridWidth": {"condition": {"test": "datum.value % 1 != 0", "value": 0.6}, "value": 1.3}, "labelOverlap": false, "labelFlush": false}},
    "y": {"field": "v", "type": "quantitative", "scale": {"domain": [-0.191, 4.011], "nice": false}, "axis": {"title": "%", "values": [0,0.5,1,1.5,2,2.5,3,3.5,4], "labelExpr": "datum.value % 1 == 0 ? format(datum.value, 'd') : ''", "tickOpacity": {"condition": {"test": "datum.value % 1 != 0", "value": 0}, "value": 1}, "gridWidth": {"condition": {"test": "datum.value % 1 != 0", "value": 0.6}, "value": 1.3}, "labelOverlap": false, "labelFlush": false}},
    "color": {"field": "n", "type": "nominal", "scale": {"domain": ["A","C","G","T"], "range": ["#D7191C","#FDAE61","#ABDDA4","#2B83BA"]}, "legend": {"orient": "none", "legendX": 321, "legendY": 65, "title": "NT"}},
    "order": {"field": "x", "type": "quantitative"}
   }},
  {"data": {"name": "pts"}, "transform": [{"filter": "datum.p=='z'||datum.p=='c'"}], "mark": {"type": "line", "color": "#1a1a1a", "strokeWidth": 1.2},
   "encoding": {"x": {"field": "x", "type": "quantitative", "scale": {"domain": [-3.85, 102.85], "nice": false}}, "y": {"aggregate": "mean", "field": "v", "type": "quantitative", "scale": {"domain": [-0.191, 4.011], "nice": false}}}},
  {"data": {"values": [{"v": 0}, {"v": 2}]}, "mark": {"type": "rule", "color": "#858585", "strokeWidth": 1.3},
   "encoding": {"y": {"field": "v", "type": "quantitative", "scale": {"domain": [-0.191, 4.011], "nice": false}}}},
  {"data": {"values": [{"x": 35.4}, {"x": 47.4}, {"x": 53.4}, {"x": 65.3}]}, "mark": {"type": "rule", "color": "#9a9a9a", "strokeWidth": 1.3, "strokeDash": [6, 4]},
   "encoding": {"x": {"field": "x", "type": "quantitative", "scale": {"domain": [-3.85, 102.85], "nice": false}}}}
 ]},
{"width": 297, "height": 251, "title": "GFP_VarSil12_94",
 "layer": [
  {"data": {"name": "pts"}, "transform": [{"filter": "datum.p=='z'||datum.p=='d'"}], "mark": {"type": "circle", "size": 50, "opacity": 1},
   "encoding": {
    "x": {"field": "x", "type": "quantitative", "scale": {"domain": [-3.85, 102.85], "nice": false}, "axis": {"title": "Pos", "values": [7.5,20,32.5,45,57.5,70,82.5,95], "labelExpr": "datum.value % 1 == 0 ? format(datum.value, 'd') : ''", "tickOpacity": {"condition": {"test": "datum.value % 1 != 0", "value": 0}, "value": 1}, "gridWidth": {"condition": {"test": "datum.value % 1 != 0", "value": 0.6}, "value": 1.3}, "labelOverlap": false, "labelFlush": false}},
    "y": {"field": "v", "type": "quantitative", "scale": {"domain": [-0.18, 3.78], "nice": false}, "axis": {"title": "%", "values": [0,0.5,1,1.5,2,2.5,3,3.5], "labelExpr": "datum.value % 1 == 0 ? format(datum.value, 'd') : ''", "tickOpacity": {"condition": {"test": "datum.value % 1 != 0", "value": 0}, "value": 1}, "gridWidth": {"condition": {"test": "datum.value % 1 != 0", "value": 0.6}, "value": 1.3}, "labelOverlap": false, "labelFlush": false}},
    "color": {"field": "n", "type": "nominal", "scale": {"domain": ["A","C","G","T"], "range": ["#D7191C","#FDAE61","#ABDDA4","#2B83BA"]}, "legend": {"orient": "none", "legendX": 321, "legendY": 65, "title": "NT"}},
    "order": {"field": "x", "type": "quantitative"}
   }},
  {"data": {"name": "pts"}, "transform": [{"filter": "datum.p=='z'||datum.p=='d'"}], "mark": {"type": "line", "color": "#1a1a1a", "strokeWidth": 1.2},
   "encoding": {"x": {"field": "x", "type": "quantitative", "scale": {"domain": [-3.85, 102.85], "nice": false}}, "y": {"aggregate": "mean", "field": "v", "type": "quantitative", "scale": {"domain": [-0.18, 3.78], "nice": false}}}},
  {"data": {"values": [{"v": 0}, {"v": 2}]}, "mark": {"type": "rule", "color": "#858585", "strokeWidth": 1.3},
   "encoding": {"y": {"field": "v", "type": "quantitative", "scale": {"domain": [-0.18, 3.78], "nice": false}}}},
  {"data": {"values": [{"x": 35.4}, {"x": 47.4}, {"x": 53.4}, {"x": 65.3}]}, "mark": {"type": "rule", "color": "#9a9a9a", "strokeWidth": 1.3, "strokeDash": [6, 4]},
   "encoding": {"x": {"field": "x", "type": "quantitative", "scale": {"domain": [-3.85, 102.85], "nice": false}}}}
 ]}
],
"config": {
 "font": "Liberation Sans",
 "view": {"fill": "#EBEBEB", "stroke": null},
 "title": {"fontSize": 18.5, "fontWeight": "normal", "color": "#000000", "frame": "group", "offset": 9},
 "axis": {"domain": false, "grid": true, "gridColor": "#FFFFFF", "tickColor": "#333333", "tickSize": 3.9, "tickWidth": 1.1, "labelFontSize": 12.5, "labelColor": "#4D4D4D", "labelPadding": 2, "titleFontSize": 15.6, "titleFontWeight": "normal", "titleColor": "#000000", "titlePadding": 4},
 "axisY": {"titlePadding": 6},
 "legend": {"titleFontSize": 15.6, "titleFontWeight": "normal", "titleColor": "#000000", "labelFontSize": 12.5, "labelColor": "#1a1a1a", "symbolType": "circle", "symbolSize": 40, "symbolOffset": 9, "labelOffset": 6, "rowPadding": 12, "titlePadding": 10, "symbolStrokeWidth": 0}
}
}
